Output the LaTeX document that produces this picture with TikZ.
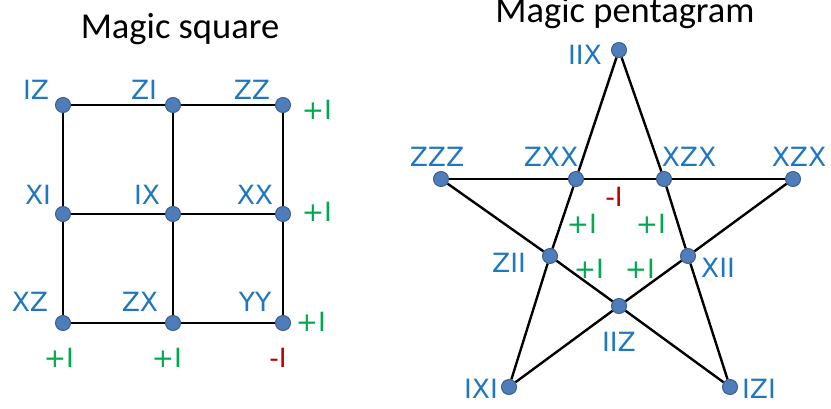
\documentclass[tikz,border=0pt]{standalone}
\usepackage{fontspec}
\setmainfont{Carlito}
\newfontfamily\lblfont{DejaVu Sans}
\definecolor{lblblue}{HTML}{1F77C0}
\definecolor{lblgreen}{HTML}{00A84F}
\definecolor{lblred}{HTML}{C00000}
\definecolor{dotfill}{HTML}{4F7DBA}
\definecolor{dotline}{HTML}{3A5F92}
\begin{document}
\begin{tikzpicture}[x=1pt,y=-1pt,
  dot/.style={circle,inner sep=0pt,minimum size=15pt,fill=dotfill,draw=dotline,line width=1pt},
  lbl/.style={inner sep=0pt,text=lblblue,font=\lblfont\fontsize{26.5}{29}\selectfont},
  plus/.style={inner sep=0pt,text=lblgreen,font=\lblfont\fontsize{26.5}{29}\selectfont},
  minus/.style={inner sep=0pt,text=lblred,font=\lblfont\fontsize{26.5}{29}\selectfont},
  ttl/.style={inner sep=0pt,anchor=base,font=\fontsize{36.5}{40}\selectfont},
  edge/.style={line width=2.4pt,black}]
\useasboundingbox (0,0) rectangle (831,408);
% titles
\node[ttl] (t1) at (180,38) {Magic square};
\node[ttl] (t2) at (625,22) {Magic pentagram};
% square dots
\node[dot] (iz) at (63,105) {};
\node[dot] (zi) at (173,105) {};
\node[dot] (zz) at (283,105) {};
\node[dot] (xi) at (63,214) {};
\node[dot] (ix) at (173,214) {};
\node[dot] (xx) at (283,214) {};
\node[dot] (xz) at (63,323) {};
\node[dot] (zx) at (173,323) {};
\node[dot] (yy) at (283,323) {};
\draw[edge] (iz) -- (zi); \draw[edge] (zi) -- (zz);
\draw[edge] (xi) -- (ix); \draw[edge] (ix) -- (xx);
\draw[edge] (xz) -- (zx); \draw[edge] (zx) -- (yy);
\draw[edge] (iz) -- (xi); \draw[edge] (xi) -- (xz);
\draw[edge] (zi) -- (ix); \draw[edge] (ix) -- (zx);
\draw[edge] (zz) -- (xx); \draw[edge] (xx) -- (yy);
% square labels
\node[lbl] (liz) at (36,90) {IZ};
\node[lbl] (lzi) at (144,90) {ZI};
\node[lbl] (lzz) at (252,90) {ZZ};
\node[lbl] (lxi) at (38,195) {XI};
\node[lbl] (lix) at (147,195) {IX};
\node[lbl] (lxx) at (255,195) {XX};
\node[lbl] (lxz) at (30,302) {XZ};
\node[lbl] (lzx) at (140,302) {ZX};
\node[lbl] (lyy) at (255,302) {YY};
\node[plus] (r1) at (317,110) {+I};
\node[plus] (r2) at (317,212) {+I};
\node[plus] (r3) at (311,322) {+I};
\node[plus] (c1) at (59,358) {+I};
\node[plus] (c2) at (167,358) {+I};
\node[minus] (c3) at (278,358) {-I};
% pentagram dots
\node[dot] (iix) at (619,50) {};
\node[dot] (zzz) at (441,179) {};
\node[dot] (zxx) at (576,179) {};
\node[dot] (xzxa) at (664,179) {};
\node[dot] (xzxb) at (793,179) {};
\node[dot] (zii) at (550,256) {};
\node[dot] (xii) at (688,256) {};
\node[dot] (iiz) at (619,306) {};
\node[dot] (ixi) at (509,387) {};
\node[dot] (izi) at (730,387) {};
\draw[edge] (iix) -- (zxx); \draw[edge] (zxx) -- (zii); \draw[edge] (zii) -- (ixi);
\draw[edge] (iix) -- (xzxa); \draw[edge] (xzxa) -- (xii); \draw[edge] (xii) -- (izi);
\draw[edge] (zzz) -- (zxx); \draw[edge] (zxx) -- (xzxa); \draw[edge] (xzxa) -- (xzxb);
\draw[edge] (zzz) -- (zii); \draw[edge] (zii) -- (iiz); \draw[edge] (iiz) -- (izi);
\draw[edge] (xzxb) -- (xii); \draw[edge] (xii) -- (iiz); \draw[edge] (iiz) -- (ixi);
% pentagram labels
\node[lbl] (liix) at (585,55) {IIX};
\node[lbl] (lzzz) at (437,157) {ZZZ};
\node[lbl] (lzxx) at (551,157) {ZXX};
\node[lbl] (lxzxa) at (689,157) {XZX};
\node[lbl] (lxzxb) at (799,157) {XZX};
\node[lbl] (lzii) at (509,263) {ZII};
\node[lbl] (lxii) at (718,268) {XII};
\node[lbl] (liiz) at (619,342) {IIZ};
\node[lbl] (lixi) at (481,389) {IXI};
\node[lbl] (lizi) at (759,389) {IZI};
\node[minus] (pm) at (614,197) {-I};
\node[plus] (p1) at (582,224) {+I};
\node[plus] (p2) at (651,224) {+I};
\node[plus] (p3) at (589,269) {+I};
\node[plus] (p4) at (640,269) {+I};
\end{tikzpicture}
\end{document}
